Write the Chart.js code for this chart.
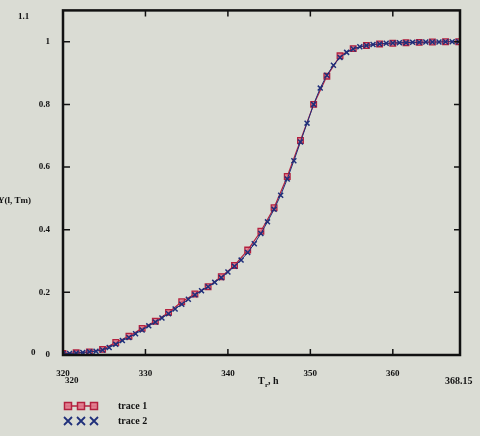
<!DOCTYPE html>
<html>
<head>
<meta charset="utf-8">
<script src="https://cdn.jsdelivr.net/npm/chart.js@4.4.1/dist/chart.umd.min.js"></script>
<style>
  html, body { margin: 0; padding: 0; background: #dadcd4; }
  #wrap { width: 480px; height: 436px; position: relative; }
</style>
</head>
<body>
<div id="wrap"><canvas id="c" width="480" height="436"></canvas></div>
<script>
// trace 1: measured points (red squares)
const trace1X = [320, 321.6, 323.2, 324.8, 326.4, 328, 329.6, 331.2, 332.8, 334.4, 336, 337.6, 339.2, 340.8, 342.4, 344, 345.6, 347.2, 348.8, 350.4, 352, 353.6, 355.2, 356.8, 358.4, 360, 361.6, 363.2, 364.8, 366.4, 368];
const trace1Y = [0.005, 0.007, 0.01, 0.018, 0.04, 0.06, 0.085, 0.108, 0.136, 0.17, 0.195, 0.218, 0.25, 0.286, 0.335, 0.395, 0.47, 0.57, 0.685, 0.8, 0.89, 0.955, 0.978, 0.988, 0.993, 0.995, 0.997, 0.998, 0.999, 1.0, 1.0];

// trace 2: model (blue crosses)
const trace2X = [320, 320.8, 321.6, 322.4, 323.2, 324, 324.8, 325.6, 326.4, 327.2, 328, 328.8, 329.6, 330.4, 331.2, 332, 332.8, 333.6, 334.4, 335.2, 336, 336.8, 337.6, 338.4, 339.2, 340, 340.8, 341.6, 342.4, 343.2, 344, 344.8, 345.6, 346.4, 347.2, 348, 348.8, 349.6, 350.4, 351.2, 352, 352.8, 353.6, 354.4, 355.2, 356, 356.8, 357.6, 358.4, 359.2, 360, 360.8, 361.6, 362.4, 363.2, 364, 364.8, 365.6, 366.4, 367.2, 368];
const trace2Y = [0.004, 0.005, 0.006, 0.008, 0.01, 0.012, 0.016, 0.024, 0.034, 0.046, 0.056, 0.068, 0.08, 0.093, 0.105, 0.118, 0.132, 0.147, 0.162, 0.178, 0.192, 0.205, 0.218, 0.232, 0.247, 0.265, 0.283, 0.303, 0.327, 0.355, 0.388, 0.425, 0.465, 0.51, 0.562, 0.62, 0.68, 0.74, 0.8, 0.852, 0.893, 0.925, 0.95, 0.966, 0.977, 0.984, 0.988, 0.991, 0.993, 0.995, 0.996, 0.997, 0.997, 0.998, 0.998, 0.999, 0.999, 0.999, 1.0, 1.0, 1.0];

const xTicks = [320, 330, 340, 350, 360];
const yTicks = [0, 0.2, 0.4, 0.6, 0.8, 1];
const xMin = 320, xMax = 368.15;
const yMin = 0, yMax = 1.1;

const labelFont = 'bold 9px "Liberation Serif", "DejaVu Serif", serif';
const ink = '#111111';

// Mathcad-style frame, inward ticks, axis limits, labels and legend
const mathcadFrame = {
  id: 'mathcadFrame',
  afterDraw(chart) {
    const ctx = chart.ctx;
    const a = chart.chartArea;
    const xs = chart.scales.x, ys = chart.scales.y;
    ctx.save();
    ctx.strokeStyle = ink;
    ctx.lineWidth = 2.5;
    ctx.strokeRect(a.left, a.top, a.right - a.left, a.bottom - a.top);

    ctx.lineWidth = 1.5;
    yTicks.forEach(v => {
      if (v === 0) return;
      const y = ys.getPixelForValue(v);
      ctx.beginPath();
      ctx.moveTo(a.left, y); ctx.lineTo(a.left + 7, y);
      ctx.moveTo(a.right, y); ctx.lineTo(a.right - 6, y);
      ctx.stroke();
    });
    xTicks.forEach(v => {
      if (v === xMin) return;
      const x = xs.getPixelForValue(v);
      ctx.beginPath();
      ctx.moveTo(x, a.bottom); ctx.lineTo(x, a.bottom - 6);
      ctx.moveTo(x, a.top); ctx.lineTo(x, a.top + 6);
      ctx.stroke();
    });

    ctx.fillStyle = ink;
    ctx.font = labelFont;
    ctx.textBaseline = 'middle';
    // axis limits
    ctx.textAlign = 'left';
    ctx.fillText('1.1', 18, 17);
    ctx.fillText('0', 31, 353);
    ctx.fillText('320', a.left + 2, 381);
    ctx.font = 'bold 10px "Liberation Serif", serif';
    ctx.fillText('368.15', 445, 381);
    ctx.font = labelFont;

    // y axis title (cut at page edge)
    ctx.textAlign = 'right';
    ctx.fillText('Y(l, Tm)', 31, 201);

    // x axis title with subscript
    ctx.textAlign = 'left';
    ctx.font = 'bold 10px "Liberation Serif", serif';
    ctx.fillText('T', 258, 381);
    ctx.font = 'bold 7px "Liberation Serif", serif';
    ctx.fillText('r', 265, 385);
    ctx.font = 'bold 10px "Liberation Serif", serif';
    ctx.fillText(', h', 268, 381);

    // legend
    const lx = 66;
    const rows = [
      { y: 406, text: 'trace 1' },
      { y: 421, text: 'trace 2' }
    ];
    // trace 1 sample
    ctx.strokeStyle = '#b3213f';
    ctx.lineWidth = 1.5;
    ctx.beginPath();
    ctx.moveTo(lx, rows[0].y); ctx.lineTo(lx + 30, rows[0].y);
    ctx.stroke();
    [lx + 2, lx + 15, lx + 28].forEach(px => {
      ctx.fillStyle = 'rgba(226,120,140,0.9)';
      ctx.fillRect(px - 3.5, rows[0].y - 3.5, 7, 7);
      ctx.strokeRect(px - 3.5, rows[0].y - 3.5, 7, 7);
    });
    // trace 2 sample
    ctx.strokeStyle = '#1f2f7a';
    ctx.lineWidth = 1.8;
    [lx + 2, lx + 15, lx + 28].forEach(px => {
      ctx.beginPath();
      ctx.moveTo(px - 4, rows[1].y - 4); ctx.lineTo(px + 4, rows[1].y + 4);
      ctx.moveTo(px - 4, rows[1].y + 4); ctx.lineTo(px + 4, rows[1].y - 4);
      ctx.stroke();
    });
    ctx.fillStyle = ink;
    ctx.font = 'bold 10px "Liberation Serif", serif';
    ctx.textAlign = 'left';
    rows.forEach(r => ctx.fillText(r.text, 118, r.y));
    ctx.restore();
  }
};

const toPoints = (xs, ys) => xs.map((x, i) => ({ x: x, y: ys[i] }));

new Chart(document.getElementById('c'), {
  type: 'scatter',
  data: {
    datasets: [
      {
        label: 'trace 1',
        data: toPoints(trace1X, trace1Y),
        showLine: true,
        borderColor: '#b3213f',
        borderWidth: 1.2,
        pointStyle: 'rect',
        pointRadius: 4,
        pointBorderWidth: 1.3,
        pointBorderColor: '#b3213f',
        pointBackgroundColor: 'rgba(226,110,130,0.75)',
        order: 2
      },
      {
        label: 'trace 2',
        data: toPoints(trace2X, trace2Y),
        showLine: true,
        borderColor: '#1f2f7a',
        borderWidth: 1,
        pointStyle: 'crossRot',
        pointRadius: 3.5,
        pointBorderWidth: 1.5,
        pointBorderColor: '#1f2f7a',
        order: 1
      }
    ]
  },
  options: {
    responsive: false,
    animation: false,
    layout: { padding: { left: 0, right: 20, top: 10, bottom: 0 } },
    plugins: {
      legend: { display: false },
      tooltip: { enabled: false }
    },
    scales: {
      x: {
        type: 'linear',
        min: xMin,
        max: xMax,
        afterBuildTicks: s => { s.ticks = xTicks.map(v => ({ value: v })); },
        afterFit: s => { s.height = 81; },
        grid: { display: false },
        border: { display: false },
        ticks: {
          color: ink,
          font: { family: '"Liberation Serif", serif', size: 9, weight: 'bold' },
          padding: 5,
          maxRotation: 0
        }
      },
      y: {
        min: yMin,
        max: yMax,
        afterBuildTicks: s => { s.ticks = yTicks.map(v => ({ value: v })); },
        afterFit: s => { s.width = 63; },
        grid: { display: false },
        border: { display: false },
        ticks: {
          color: ink,
          font: { family: '"Liberation Serif", serif', size: 9, weight: 'bold' },
          padding: 5,
          callback: v => String(+v.toFixed(2))
        }
      }
    }
  },
  plugins: [mathcadFrame]
});
</script>
</body>
</html>
